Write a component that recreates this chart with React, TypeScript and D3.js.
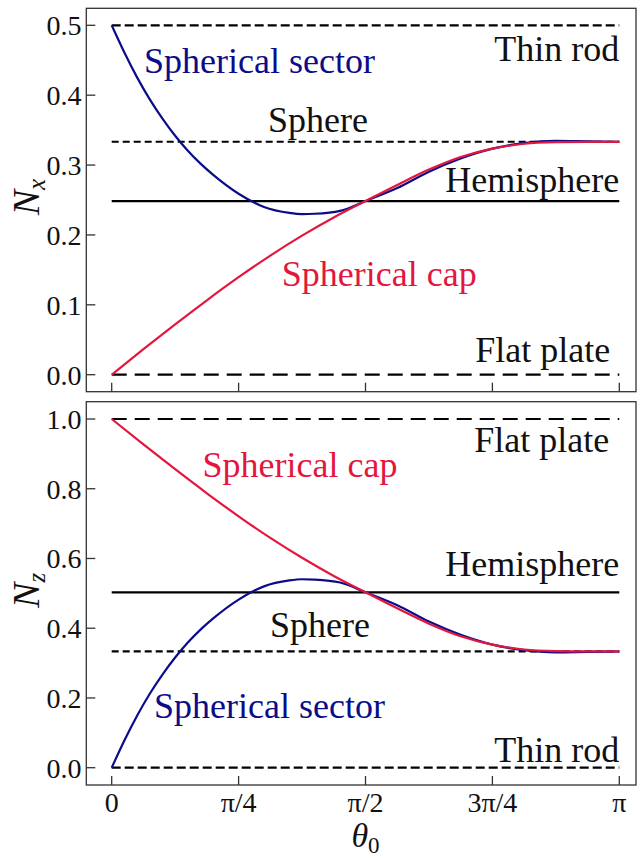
import React from "react"
import * as d3 from "d3"

// theta0 in units of pi
const capTheta = [0, 0.0625, 0.125, 0.1875, 0.25, 0.3125, 0.375, 0.4375, 0.5, 0.5625, 0.625, 0.6875, 0.75, 0.8125, 0.875, 0.9375, 1]
const capNx = [0, 0.0365, 0.072, 0.1065, 0.1395, 0.1705, 0.199, 0.225, 0.2485, 0.2715, 0.2935, 0.3115, 0.3235, 0.3305, 0.3328, 0.3333, 0.3333]
const capNz = [1, 0.927, 0.856, 0.787, 0.721, 0.659, 0.602, 0.55, 0.503, 0.457, 0.413, 0.377, 0.353, 0.339, 0.3344, 0.3334, 0.3334]

const sectorTheta = [0, 0.025, 0.05, 0.075, 0.1, 0.125, 0.15, 0.175, 0.2, 0.25, 0.3, 0.35, 0.375, 0.4, 0.45, 0.5, 0.5625, 0.625, 0.6875, 0.75, 0.8125, 0.875, 0.9375, 1]
const sectorNx = [0.5, 0.461, 0.4255, 0.394, 0.3665, 0.342, 0.3205, 0.302, 0.286, 0.259, 0.24, 0.2315, 0.2298, 0.2303, 0.2345, 0.2485, 0.267, 0.2905, 0.3095, 0.3235, 0.3315, 0.3345, 0.3339, 0.3333]
const sectorNz = [0, 0.078, 0.149, 0.212, 0.267, 0.316, 0.359, 0.396, 0.428, 0.482, 0.52, 0.537, 0.5404, 0.5394, 0.531, 0.503, 0.466, 0.419, 0.381, 0.353, 0.337, 0.331, 0.3322, 0.3333]

// limiting shapes: thin rod, sphere, hemisphere, flat plate
const limitNx = [0.5, 1 / 3, 0.2485, 0]
const limitNz = [0, 1 / 3, 0.503, 1]

const xTicks = [0, 0.25, 0.5, 0.75, 1]
const xTickLabels = ["0", "π/4", "π/2", "3π/4", "π"]
const nxTicks = [0, 0.1, 0.2, 0.3, 0.4, 0.5]
const nzTicks = [0, 0.2, 0.4, 0.6, 0.8, 1.0]

const BLUE = "#0c0c8a"
const RED = "#e3173e"
const FONT = "Liberation Serif"

const W = 641
const H = 858
const left = 86.3
const right = 636
const limitDash = ["9,4", "7,4", null, "15,8"]

const x = d3.scaleLinear().domain([0, Math.PI]).range([111.7, 619.3])

const panels = [
  {
    top: 8.3,
    bottom: 391.7,
    y: d3.scaleLinear().domain([0, 0.5]).range([374.7, 25.3]),
    ticks: nxTicks,
    cap: capNx,
    sector: sectorNx,
    limits: limitNx,
    sub: "x",
    labels: [
      { text: "Thin rod", t: 1.0, v: 0.4484, anchor: "end", color: "#111" },
      { text: "Spherical sector", t: 0.0636, v: 0.4322, anchor: "start", color: BLUE },
      { text: "Sphere", t: 0.308, v: 0.348, anchor: "start", color: "#111" },
      { text: "Hemisphere", t: 1.0, v: 0.2613, anchor: "end", color: "#111" },
      { text: "Spherical cap", t: 0.335, v: 0.127, anchor: "start", color: RED },
      { text: "Flat plate", t: 0.982, v: 0.0186, anchor: "end", color: "#111" },
    ],
  },
  {
    top: 401.7,
    bottom: 785,
    y: d3.scaleLinear().domain([0, 1]).range([767.7, 419]),
    ticks: nzTicks,
    cap: capNz,
    sector: sectorNz,
    limits: limitNz,
    sub: "z",
    labels: [
      { text: "Flat plate", t: 0.98, v: 0.906, anchor: "end", color: "#111" },
      { text: "Spherical cap", t: 0.179, v: 0.8345, anchor: "start", color: RED },
      { text: "Hemisphere", t: 1.0, v: 0.5506, anchor: "end", color: "#111" },
      { text: "Sphere", t: 0.312, v: 0.3757, anchor: "start", color: "#111" },
      { text: "Spherical sector", t: 0.0833, v: 0.1417, anchor: "start", color: BLUE },
      { text: "Thin rod", t: 1.0, v: 0.0172, anchor: "end", color: "#111" },
    ],
  },
]

const Panel = ({ p, showX }) => {
  const line = d3
    .line()
    .x((d) => x(d[0] * Math.PI))
    .y((d) => p.y(d[1]))
    .curve(d3.curveMonotoneX)
  const capPts = capTheta.map((t, i) => [t, p.cap[i]])
  const secPts = sectorTheta.map((t, i) => [t, p.sector[i]])
  const mid = (p.top + p.bottom) / 2
  return (
    <g>
      {p.limits.map((v, i) => (
        <line
          key={"l" + i}
          x1={x(0)}
          x2={x(Math.PI)}
          y1={p.y(v)}
          y2={p.y(v)}
          stroke="#000"
          strokeWidth={2.2}
          strokeDasharray={limitDash[i] || undefined}
        />
      ))}
      <path d={line(secPts)} fill="none" stroke={BLUE} strokeWidth={2.2} />
      <path d={line(capPts)} fill="none" stroke={RED} strokeWidth={2.2} />
      {p.labels.map((l, i) => (
        <text
          key={"t" + i}
          x={x(l.t * Math.PI)}
          y={p.y(l.v)}
          textAnchor={l.anchor}
          fontSize={36}
          fill={l.color}
        >
          {l.text}
        </text>
      ))}
      <rect
        x={left}
        y={p.top}
        width={right - left}
        height={p.bottom - p.top}
        fill="none"
        stroke="#333"
        strokeWidth={1.3}
      />
      {xTicks.map((t, i) => (
        <line
          key={"xt" + i}
          x1={x(t * Math.PI)}
          x2={x(t * Math.PI)}
          y1={p.bottom}
          y2={p.bottom - 9}
          stroke="#333"
          strokeWidth={1.3}
        />
      ))}
      {showX &&
        xTicks.map((t, i) => (
          <text
            key={"xl" + i}
            x={x(t * Math.PI)}
            y={812}
            textAnchor="middle"
            fontSize={28}
            fill="#111"
          >
            {xTickLabels[i]}
          </text>
        ))}
      {p.ticks.map((v, i) => (
        <g key={"yt" + i}>
          <line
            x1={left}
            x2={left + 9}
            y1={p.y(v)}
            y2={p.y(v)}
            stroke="#333"
            strokeWidth={1.3}
          />
          <text
            x={81.5}
            y={p.y(v) + 10}
            textAnchor="end"
            fontSize={28}
            fill="#111"
          >
            {v.toFixed(1)}
          </text>
        </g>
      ))}
      <text
        transform={`translate(39,${mid - 3}) rotate(-90)`}
        textAnchor="middle"
        fontSize={38}
        fill="#111"
      >
        <tspan fontStyle="italic">N</tspan>
        <tspan fontStyle="italic" fontSize={25} dy={6}>
          {p.sub}
        </tspan>
      </text>
    </g>
  )
}

const App = () => {
  return (
    <svg
      width={W}
      height={H}
      style={{ position: "absolute", left: 0, top: 0, background: "#fff", fontFamily: FONT }}
    >
      <rect width={W} height={H} fill="#fff" />
      <Panel p={panels[0]} showX={false} />
      <Panel p={panels[1]} showX={true} />
      <text x={x(Math.PI / 2)} y={847} textAnchor="middle" fontSize={34} fill="#111">
        <tspan fontStyle="italic">θ</tspan>
        <tspan fontSize={23} dy={6}>
          0
        </tspan>
      </text>
    </svg>
  )
}

export default App
